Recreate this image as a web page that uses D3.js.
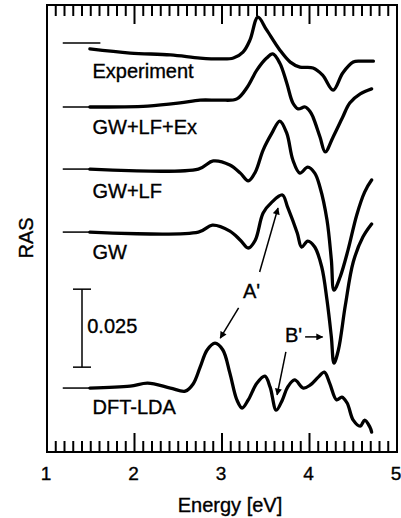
<!DOCTYPE html>
<html>
<head>
<meta charset="utf-8">
<script src="https://cdn.jsdelivr.net/npm/d3@7"></script>
<style>
  body { margin: 0; background: #fff; }
  text { font-family: "Liberation Sans", Arial, Helvetica, sans-serif; fill: #000; stroke: #000; stroke-width: 0.35px; }
</style>
</head>
<body>
<svg id="chart" width="401" height="518"></svg>
<script>
// RAS spectra, offset stack, energy in eV and RAS relative to each baseline

const seriesNames = ["Experiment", "GW+LF+Ex", "GW+LF", "GW", "DFT-LDA"];
const seriesOffsets = [0.1311, 0.1106, 0.0907, 0.0705, 0.0205];

const experiment = [
  [1.49, -0.0019], [1.95, -0.0032], [2.41, -0.0038], [2.75, -0.0048], [2.98, -0.0051],
  [3.13, -0.0048], [3.24, -0.0029], [3.32, 0.0010], [3.41, 0.0083], [3.51, 0.0042],
  [3.66, -0.0022], [3.78, -0.0061], [3.89, -0.0077], [4.04, -0.0080], [4.15, -0.0103],
  [4.27, -0.0151], [4.38, -0.0096], [4.50, -0.0061], [4.58, -0.0058], [4.73, -0.0058]
];

const gwLfEx = [
  [1.49, 0], [2.15, 0.0003], [2.52, 0.0013], [2.75, 0.0022], [2.98, 0.0022],
  [3.17, 0.0026], [3.29, 0.0064], [3.40, 0.0119], [3.51, 0.0157], [3.58, 0.0170],
  [3.66, 0.0141], [3.74, 0.0077], [3.81, 0.0013], [3.87, -0.0006], [3.95, 0],
  [4.01, -0.0016], [4.04, -0.0032], [4.12, -0.0096], [4.18, -0.0144], [4.27, -0.0096],
  [4.38, -0.0032], [4.46, 0.0013], [4.58, 0.0042], [4.71, 0.0058]
];

const gwLf = [
  [1.49, 0], [2.73, 0], [2.90, 0.0026], [3.09, 0.0013], [3.21, -0.0013],
  [3.30, -0.0038], [3.38, -0.0010], [3.47, 0.0061], [3.57, 0.0115], [3.66, 0.0154],
  [3.74, 0.0115], [3.81, 0.0029], [3.89, -0.0013], [3.98, 0.0006], [4.06, -0.0013],
  [4.12, -0.0058], [4.20, -0.0163], [4.25, -0.0292], [4.28, -0.0388], [4.35, -0.0346],
  [4.44, -0.0260], [4.54, -0.0147], [4.63, -0.0074], [4.71, -0.0035]
];

const gw = [
  [1.49, 0], [2.73, 0], [2.89, 0.0022], [3.09, 0.0003], [3.21, -0.0026],
  [3.30, -0.0051], [3.38, -0.0026], [3.47, 0.0061], [3.57, 0.0096], [3.69, 0.0119],
  [3.75, 0.0080], [3.86, -0.0003], [3.91, -0.0048], [3.98, -0.0029], [4.06, -0.0048],
  [4.14, -0.0112], [4.20, -0.0218], [4.25, -0.0337], [4.28, -0.0420], [4.33, -0.0378],
  [4.41, -0.0234], [4.50, -0.0096], [4.61, -0.0016], [4.71, 0.0026]
];

const dftLda = [
  [1.49, 0], [1.95, 0.0006], [2.15, 0.0016], [2.41, 0], [2.58, -0.0010],
  [2.67, 0.0013], [2.75, 0.0067], [2.83, 0.0122], [2.92, 0.0144], [3.01, 0.0122],
  [3.09, 0.0048], [3.17, -0.0038], [3.23, -0.0064], [3.30, -0.0038], [3.40, 0.0016],
  [3.49, 0.0038], [3.55, 0.0003], [3.62, -0.0071], [3.69, -0.0038], [3.75, 0.0003],
  [3.83, 0.0026], [3.93, 0], [4.01, 0.0010], [4.10, 0.0035], [4.17, 0.0051],
  [4.23, 0.0016], [4.31, -0.0038], [4.37, -0.0029], [4.43, -0.0048], [4.50, -0.0103],
  [4.58, -0.0122], [4.63, -0.0103], [4.69, -0.0125], [4.71, -0.0141]
];

const seriesData = [experiment, gwLfEx, gwLf, gw, dftLda];

const xTickLabels = [1, 2, 3, 4, 5];
const xMajorTicks = [2, 3, 4];
const xMinorTicks = d3.range(11, 50).filter((d) => d % 10 !== 0).map((d) => d / 10);

// scale bar: 0.025 RAS
const scaleBarValue = 0.025;
const scaleBarLabel = "0.025";

// annotations [E, RAS] in plot coordinates
const arrowList = [
  { from: [3.43, 0.0577], to: [3.64, 0.0782] },
  { from: [3.19, 0.0462], to: [2.98, 0.0365] },
  { from: [3.73, 0.0321], to: [3.63, 0.0183] },
  { from: [3.95, 0.0369], to: [4.15, 0.0369] }
];
const annotationLabels = [
  { text: "A'", at: [3.24, 0.0494] },
  { text: "B'", at: [3.72, 0.0353] }
];

// ---- layout ----
const LEFT = 47;
const RIGHT = 397;
const TOP = 5;
const BOTTOM = 452;
const LABEL_DY = [35, 27, 29, 27, 26];
const MARKER_END = [1.61, 1.49, 1.49, 1.49, 1.49];
const MARKER_START = 1.18;

const svg = d3.select("#chart");

const x = d3.scaleLinear().domain([1, 5]).range([LEFT, RIGHT]);
const y = d3.scaleLinear().domain([0, 0.1433]).range([BOTTOM, TOP]);

const defs = svg.append("defs");
defs.append("marker")
  .attr("id", "arrowhead")
  .attr("viewBox", "0 0 10 10")
  .attr("refX", 9)
  .attr("refY", 5)
  .attr("markerUnits", "userSpaceOnUse")
  .attr("markerWidth", 8)
  .attr("markerHeight", 7)
  .attr("orient", "auto")
  .append("path")
  .attr("d", "M0,0 L10,5 L0,10 Z")
  .attr("fill", "#000");

// inward ticks, top and bottom
const tickGroup = svg.append("g").attr("stroke", "#000").attr("stroke-width", 2);

[[BOTTOM, -1], [TOP, 1]].forEach(([edge, dir]) => {
  tickGroup.append("g").selectAll("line")
    .data(xMinorTicks)
    .join("line")
    .attr("x1", (d) => x(d)).attr("x2", (d) => x(d))
    .attr("y1", edge).attr("y2", edge + dir * 11);
  tickGroup.append("g").selectAll("line")
    .data(xMajorTicks)
    .join("line")
    .attr("x1", (d) => x(d)).attr("x2", (d) => x(d))
    .attr("y1", edge).attr("y2", edge + dir * 19);
});

// frame
svg.append("rect")
  .attr("x", LEFT).attr("y", TOP)
  .attr("width", RIGHT - LEFT).attr("height", BOTTOM - TOP)
  .attr("fill", "none")
  .attr("stroke", "#000")
  .attr("stroke-width", 2);

// tick labels
svg.append("g").selectAll("text")
  .data(xTickLabels)
  .join("text")
  .attr("x", (d) => x(d) - 1)
  .attr("y", 480)
  .attr("text-anchor", "middle")
  .attr("font-size", 19)
  .text((d) => d);

svg.append("text")
  .attr("x", 230).attr("y", 512)
  .attr("text-anchor", "middle")
  .attr("font-size", 20)
  .text("Energy [eV]");

svg.append("text")
  .attr("transform", "translate(33,238) rotate(-90)")
  .attr("text-anchor", "middle")
  .attr("font-size", 20)
  .text("RAS");

// baseline markers
svg.append("g").selectAll("line")
  .data(seriesOffsets)
  .join("line")
  .attr("x1", x(MARKER_START))
  .attr("x2", (d, i) => x(MARKER_END[i]))
  .attr("y1", (d) => y(d))
  .attr("y2", (d) => y(d))
  .attr("stroke", "#000")
  .attr("stroke-width", 1.5);

// curves
const line = d3.line()
  .x((d) => x(d[0]))
  .y((d) => y(d[1]))
  .curve(d3.curveCatmullRom.alpha(0.5));

svg.append("g").selectAll("path")
  .data(seriesData)
  .join("path")
  .attr("d", (d, i) => line(d.map((p) => [p[0], p[1] + seriesOffsets[i]])))
  .attr("fill", "none")
  .attr("stroke", "#000")
  .attr("stroke-width", 3.3)
  .attr("stroke-linejoin", "round")
  .attr("stroke-linecap", "round");

// series labels
svg.append("g").selectAll("text")
  .data(seriesNames)
  .join("text")
  .attr("x", x(1.52))
  .attr("y", (d, i) => y(seriesOffsets[i]) + LABEL_DY[i])
  .attr("font-size", 20)
  .text((d) => d);

// scale bar
const barX = x(1.40);
const barBottom = 0.0272;
const bar = svg.append("g").attr("stroke", "#000").attr("stroke-width", 1.5);
bar.append("line")
  .attr("x1", barX).attr("x2", barX)
  .attr("y1", y(barBottom)).attr("y2", y(barBottom + scaleBarValue));
[barBottom, barBottom + scaleBarValue].forEach((v) => {
  bar.append("line")
    .attr("x1", barX - 9).attr("x2", barX + 9)
    .attr("y1", y(v)).attr("y2", y(v));
});
svg.append("text")
  .attr("x", x(1.46))
  .attr("y", y(0.0381))
  .attr("font-size", 20)
  .text(scaleBarLabel);

// annotation arrows
svg.append("g").selectAll("line")
  .data(arrowList)
  .join("line")
  .attr("x1", (d) => x(d.from[0])).attr("y1", (d) => y(d.from[1]))
  .attr("x2", (d) => x(d.to[0])).attr("y2", (d) => y(d.to[1]))
  .attr("stroke", "#000")
  .attr("stroke-width", 1.5)
  .attr("marker-end", "url(#arrowhead)");

svg.append("g").selectAll("text")
  .data(annotationLabels)
  .join("text")
  .attr("x", (d) => x(d.at[0]))
  .attr("y", (d) => y(d.at[1]))
  .attr("font-size", 20)
  .text((d) => d.text);
</script>
</body>
</html>
